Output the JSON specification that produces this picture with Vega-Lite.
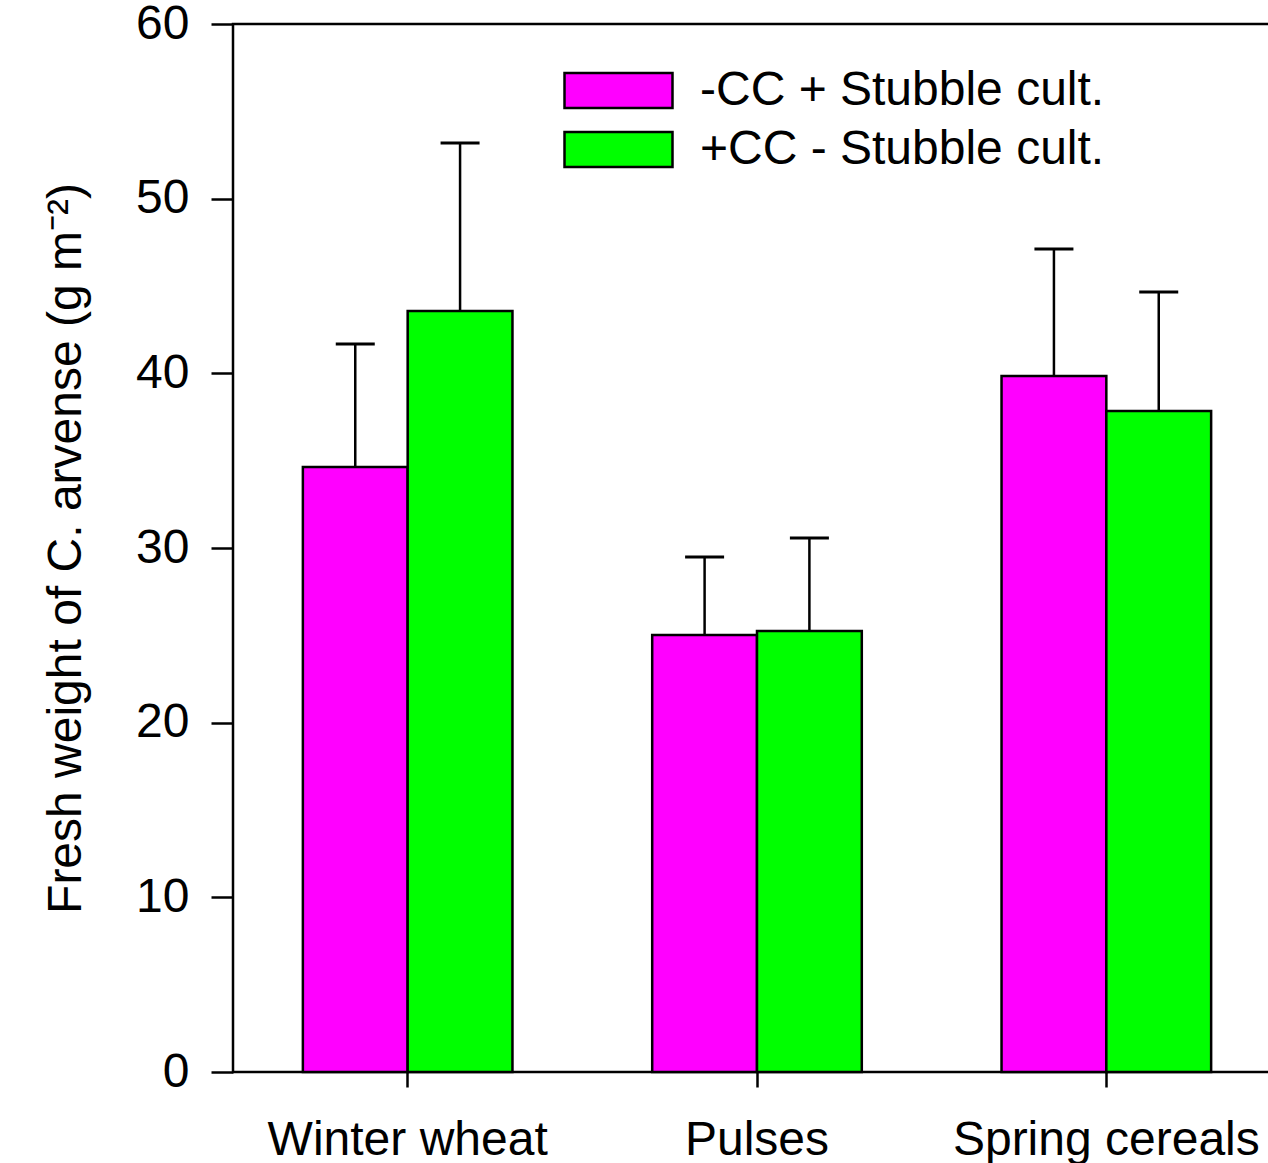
{
  "$schema": "https://vega.github.io/schema/vega-lite/v6.json",
  "autosize": "none",
  "padding": {"left": 233, "top": 24, "right": 0, "bottom": 91},
  "width": 1048,
  "height": 1048,
  "background": "white",
  "config": {
    "font": "Liberation Sans",
    "view": {"stroke": "black", "strokeWidth": 2.5},
    "axis": {"domain": false, "grid": false}
  },
  "data": {
    "values": [
      {"crop": "Winter wheat", "treatment": "-CC + Stubble cult.", "value": 34.64, "upper": 41.68},
      {"crop": "Winter wheat", "treatment": "+CC - Stubble cult.", "value": 43.57, "upper": 53.19},
      {"crop": "Pulses", "treatment": "-CC + Stubble cult.", "value": 25.02, "upper": 29.48},
      {"crop": "Pulses", "treatment": "+CC - Stubble cult.", "value": 25.25, "upper": 30.57},
      {"crop": "Spring cereals", "treatment": "-CC + Stubble cult.", "value": 39.85, "upper": 47.12},
      {"crop": "Spring cereals", "treatment": "+CC - Stubble cult.", "value": 37.84, "upper": 44.66}
    ]
  },
  "encoding": {
    "x": {
      "field": "crop", "type": "nominal",
      "sort": ["Winter wheat", "Pulses", "Spring cereals"],
      "scale": {"paddingInner": 0.4, "paddingOuter": 0.2},
      "axis": {"title": null, "labelAngle": 0, "labelFontSize": 48, "labelColor": "black", "tickColor": "black", "tickSize": 15, "tickWidth": 2.5, "labelPadding": 29, "labelLimit": 0, "orient": "bottom"}
    },
    "xOffset": {
      "field": "treatment", "type": "nominal",
      "sort": ["-CC + Stubble cult.", "+CC - Stubble cult."],
      "scale": {"paddingInner": 0, "paddingOuter": 0}
    }
  },
  "layer": [
    {
      "mark": {"type": "bar", "stroke": "black", "strokeWidth": 2.5, "opacity": 1},
      "encoding": {
        "y": {
          "field": "value", "type": "quantitative",
          "scale": {"domain": [0, 60], "nice": false},
          "axis": {
            "title": "Fresh weight of C. arvense (g m⁻²)",
            "titleFontSize": 48, "titleFontWeight": "normal", "titleColor": "black", "titlePadding": 45,
            "values": [0, 10, 20, 30, 40, 50, 60],
            "labelFontSize": 48, "labelColor": "black", "labelPadding": 22,
            "tickColor": "black", "tickSize": 22, "tickWidth": 2.5
          }
        },
        "fill": {
          "field": "treatment", "type": "nominal",
          "sort": ["-CC + Stubble cult.", "+CC - Stubble cult."],
          "scale": {"domain": ["-CC + Stubble cult.", "+CC - Stubble cult."], "range": ["#ff00ff", "#00ff00"]},
          "legend": {
            "title": null,
            "orient": "none",
            "legendX": 357,
            "legendY": 38,
            "symbolType": "M-2,-0.648H2V0.648H-2Z",
            "symbolSize": 2916,
            "symbolStrokeColor": "black",
            "symbolStrokeWidth": 2.5,
            "symbolOpacity": 1,
            "labelFontSize": 48,
            "labelColor": "black",
            "labelOffset": 53,
            "labelLimit": 0,
            "rowPadding": 6
          }
        }
      }
    },
    {
      "mark": {"type": "rule", "stroke": "black", "strokeWidth": 2.5},
      "encoding": {
        "y": {"field": "value", "type": "quantitative"},
        "y2": {"field": "upper"}
      }
    },
    {
      "mark": {"type": "tick", "color": "black", "thickness": 3, "size": 39, "opacity": 1},
      "encoding": {
        "y": {"field": "upper", "type": "quantitative"}
      }
    }
  ]
}
